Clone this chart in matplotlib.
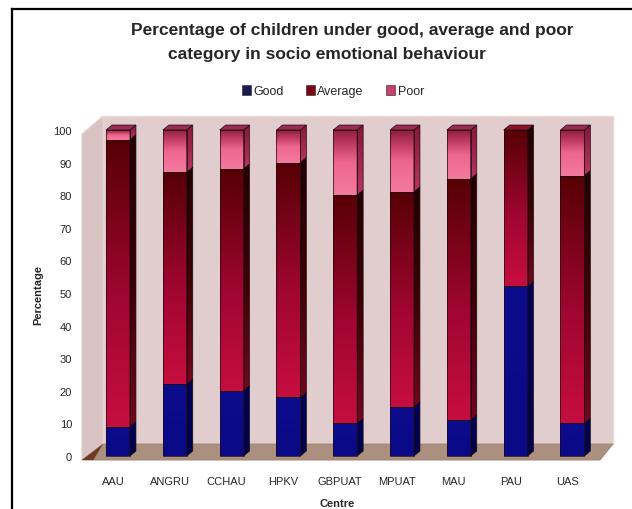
import numpy as np
import matplotlib
matplotlib.use("Agg")
import matplotlib.pyplot as plt
from matplotlib.colors import LinearSegmentedColormap
from matplotlib.patches import Polygon, Rectangle
from matplotlib.lines import Line2D
from matplotlib.transforms import ScaledTranslation

plt.rcParams["font.family"] = ["Liberation Sans", "DejaVu Sans"]

# ---- data -------------------------------------------------------------
centres = ["AAU", "ANGRU", "CCHAU", "HPKV", "GBPUAT", "MPUAT", "MAU", "PAU", "UAS"]
good = [9, 22, 20, 18, 10, 15, 11, 52, 10]
average = [88, 65, 68, 72, 70, 66, 74, 48, 76]
poor = [3, 13, 12, 10, 20, 19, 15, 0, 14]
y_ticks = list(range(0, 101, 10))
series_names = ["Good", "Average", "Poor"]

# ---- figure -----------------------------------------------------------
fig = plt.figure(figsize=(6.32, 5.10), dpi=100)
fig.patch.set_facecolor("white")
ax = fig.add_axes([0.1283, 0.0943, 0.8448, 0.6808])
ax.set_xlim(-0.65, 8.75)
ax.set_ylim(-1.5, 105)
for s in ax.spines.values():
    s.set_visible(False)
ax.set_facecolor("none")

# ---- 3-D box: floor, side wall, back wall -----------------------------
fl, bl = -0.634, -0.264      # front-left / back-left x
fr, br = 8.486, 8.715        # front-right / back-right x
fb, bb = -1.23, 3.68         # front / back floor level
top_back, top_side = 104.3, 98.8

ax.add_patch(Rectangle((bl, bb), br - bl, top_back - bb, facecolor="#e1cdcd",
                       edgecolor="#eed8d6", lw=1.0, zorder=0))
ax.add_patch(Polygon([(fl, fb), (bl, bb), (bl, top_back), (fl, top_side)],
                     closed=True, facecolor="#d8c2c2", edgecolor="#e8d2d0",
                     lw=0.8, zorder=0.5))
ax.add_patch(Polygon([(fl, fb), (fr, fb), (br, bb), (bl, bb)], closed=True,
                     facecolor="#ab8f7f", edgecolor="#9a7e70", lw=0.6, zorder=0.6))
ax.add_patch(Polygon([(fl, fb), (fl + 0.2, fb), (bl, bb)], closed=True,
                     facecolor="#6e3a22", edgecolor="none", zorder=0.7))

# ---- stacked 3-D columns ---------------------------------------------
w, dx, dy = 0.42, 0.106, 1.53
grad = np.linspace(0, 1, 256).reshape(-1, 1)

front_cmaps = {
    "Good": LinearSegmentedColormap.from_list("g", ["#0a0a86", "#0c0c8e"]),
    "Average": LinearSegmentedColormap.from_list(
        "a", [(0, "#c60e40"), (0.45, "#a00630"), (1, "#560004")]),
    "Poor": LinearSegmentedColormap.from_list(
        "p", [(0, "#f47a9e"), (0.5, "#ee6690"), (0.75, "#c43e66"), (1, "#8e1c3e")]),
}
side_cmaps = {
    "Good": LinearSegmentedColormap.from_list("gs", ["#00004e", "#000058"]),
    "Average": LinearSegmentedColormap.from_list("as", ["#74061e", "#3c0004", "#220000"]),
    "Poor": LinearSegmentedColormap.from_list("ps", ["#b83560", "#86183a"]),
}
top_colors = {"Good": "#2a2aa0", "Average": "#8e1226", "Poor": "#9a2c4e"}
edge = "#1c0a12"

for i, name in enumerate(centres):
    vals = {"Good": good[i], "Average": average[i], "Poor": poor[i]}
    base = 0.0
    last = None
    x0, x1 = i - w / 2, i + w / 2
    for s in series_names:
        v = vals[s]
        if v <= 0:
            continue
        y0, y1 = base, base + v
        # front face
        ax.imshow(grad, extent=[x0, x1, y0, y1], origin="lower", aspect="auto",
                  cmap=front_cmaps[s], zorder=3, interpolation="bilinear")
        ax.add_patch(Rectangle((x0, y0), w, v, facecolor="none", edgecolor=edge,
                               lw=0.5, zorder=3.2))
        # right side face
        side = Polygon([(x1, y0), (x1 + dx, y0 + dy), (x1 + dx, y1 + dy), (x1, y1)],
                       closed=True, transform=ax.transData)
        im = ax.imshow(grad, extent=[x1, x1 + dx, y0, y1 + dy], origin="lower",
                       aspect="auto", cmap=side_cmaps[s], zorder=3,
                       interpolation="bilinear")
        im.set_clip_path(side)
        ax.add_patch(Polygon([(x1, y0), (x1 + dx, y0 + dy), (x1 + dx, y1 + dy), (x1, y1)],
                             closed=True, facecolor="none", edgecolor=edge,
                             lw=0.5, zorder=3.2))
        base = y1
        last = s
    # top face
    ax.add_patch(Polygon([(x0, base), (x1, base), (x1 + dx, base + dy), (x0 + dx, base + dy)],
                         closed=True, facecolor=top_colors[last], edgecolor=edge,
                         lw=0.5, zorder=3.3))

ax.set_xlim(-0.65, 8.75)
ax.set_ylim(-1.5, 105)

# ---- ticks ------------------------------------------------------------
txt = "#262626"
ax.set_yticks(y_ticks)
ax.set_yticklabels([str(t) for t in y_ticks], fontsize=8, color=txt)
ax.tick_params(axis="y", length=0, pad=6.5)
ax.set_xticks(range(len(centres)))
ax.set_xticklabels(centres, fontsize=8, color=txt)
ax.tick_params(axis="x", length=0, pad=11)
shift = ScaledTranslation(-5 / 100, 0, fig.dpi_scale_trans)
for lab in ax.get_xticklabels():
    lab.set_transform(lab.get_transform() + shift)

# ---- titles and labels ------------------------------------------------
fig.text(352 / 632, 1 - 30 / 510,
         "Percentage of children under good, average and poor",
         ha="center", va="center", fontsize=12.5, fontweight="bold", color=txt)
fig.text(327 / 632, 1 - 55 / 510,
         "category in socio emotional behaviour",
         ha="center", va="center", fontsize=12.5, fontweight="bold", color=txt)
fig.text(38 / 632, 1 - 295 / 510, "Percentage", rotation=90, ha="center",
         va="center", fontsize=8, fontweight="bold", color=txt)
fig.text(337 / 632, 1 - 504 / 510, "Centre", ha="center", va="center",
         fontsize=8, fontweight="bold", color=txt)

legend_colors = ["#1a1a50", "#7a0418", "#c8406a"]
handles = [Rectangle((0, 0), 1, 1, facecolor=c, edgecolor="#222222", lw=0.4)
           for c in legend_colors]
fig.legend(handles, series_names, loc="center",
           bbox_to_anchor=(333 / 632, 1 - 92 / 510), ncol=3, frameon=False,
           fontsize=9, handlelength=0.7, handleheight=0.8,
           handletextpad=0.2, columnspacing=1.8, labelcolor=txt)

# ---- outer frame (left and top edges) ----------------------------------
fig.add_artist(Line2D([12 / 632, 12 / 632], [0, 1 - 10 / 510], color="black",
                      lw=1.6, transform=fig.transFigure))
fig.add_artist(Line2D([12 / 632, 1], [1 - 10 / 510, 1 - 10 / 510], color="black",
                      lw=1.6, transform=fig.transFigure))

fig.savefig("out.png", dpi=100)
